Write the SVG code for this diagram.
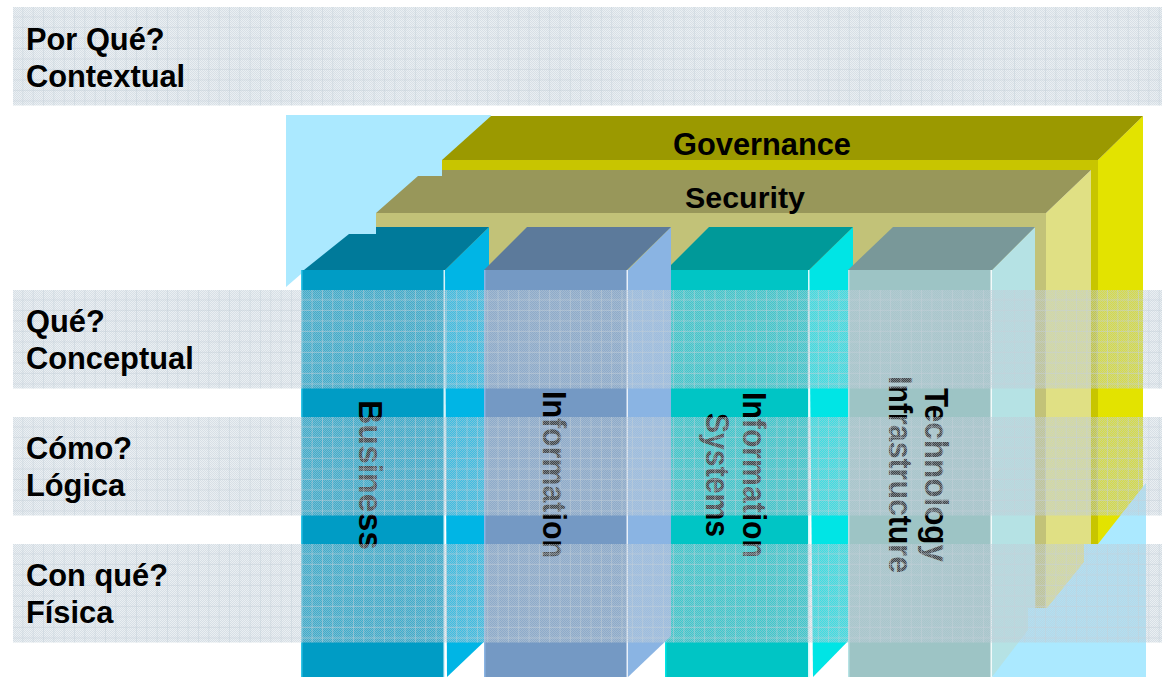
<svg xmlns="http://www.w3.org/2000/svg" width="1162" height="677" viewBox="0 0 1162 677">
<style>
text{font-family:"Liberation Sans",Arial,sans-serif;font-weight:700;fill:#000}
.lab{font-size:30.8px}
.col{font-size:33px}
.sky{fill:#abe9ff}
</style>
<defs>
<pattern id="dither" width="2" height="2" patternUnits="userSpaceOnUse">
<rect width="2" height="2" fill="rgb(190,205,215)" fill-opacity=".33"/>
<rect width="1" height="1" fill="rgb(190,205,215)" fill-opacity=".45"/>
<rect x="1" y="1" width="1" height="1" fill="rgb(190,205,215)" fill-opacity=".45"/>
</pattern>
<pattern id="grid" width="10.33" height="10.5" patternUnits="userSpaceOnUse">
<rect x="9.4" width="1" height="10.5" fill="rgb(198,210,218)" fill-opacity=".5"/>
<rect y="9.4" width="10.33" height="1" fill="rgb(198,210,218)" fill-opacity=".5"/>
</pattern>
<g id="bandshape">
<rect width="1149" height="98.5" fill="url(#dither)"/>
<rect width="1149" height="98.5" fill="url(#grid)"/>
</g>
</defs>

<rect width="1162" height="677" fill="#fff"/>

<polygon id="backdrop" class="sky" points="286,115 491,115 445,250 301,274 286,287"/>

<g id="governance">
<polygon points="1098,160 1143,116 1143,500 1098,560" fill="#e3e300"/>
<rect x="442" y="160" width="656" height="10" fill="#c8c500"/>
<rect x="1091" y="160" width="7" height="384" fill="#c8c500"/>
<polygon points="491,116 1143,116 1098,160 442,160" fill="#9b9900"/>
<text x="762" y="155" text-anchor="middle" style="font-size:30.8px">Governance</text>
</g>

<g id="security">
<polygon points="1046,213 1091,170 1091,570 1046,625" fill="#e0e084"/>
<rect x="376" y="213" width="670" height="57" fill="#c2c278"/>
<rect x="1035" y="213" width="11" height="395" fill="#c2c278"/>
<polygon points="418,176 442,176 442,170 1091,170 1046,213 376,213" fill="#98975a"/>
<text x="745" y="208" text-anchor="middle" style="font-size:30.4px">Security</text>
</g>

<g id="business">
<polygon points="445,270 489,227 489,637 447,677" fill="#00b5e5"/>
<polygon points="304,270 349,234 376,234 376,227 489,227 445,270" fill="#007a9a"/>
<rect x="301" y="270" width="143" height="407" fill="#009cc5"/>
<rect x="301" y="270" width="1.5" height="407" fill="#33c4e6"/>
<rect x="443.5" y="270" width="1.5" height="407" fill="#d4f2fa"/>
<text class="col" style="font-size:34px" transform="translate(359,400) rotate(90)" textLength="150" lengthAdjust="spacingAndGlyphs">Business</text>
</g>

<g id="information-systems">
<polygon points="809,270 853,227 853,636 813,677" fill="#00e5e5"/>
<polygon points="666,270 709,227 853,227 809,270" fill="#009999"/>
<rect x="665" y="270" width="143" height="407" fill="#00c5c5"/>
<rect x="665" y="270" width="1.5" height="407" fill="#00e5e5"/>
<rect x="808" y="270" width="1.5" height="407" fill="#d4fafa"/>
<text class="col" transform="translate(743,392) rotate(90)" textLength="166" lengthAdjust="spacingAndGlyphs">Information</text>
<text class="col" transform="translate(706,413) rotate(90)" textLength="124" lengthAdjust="spacingAndGlyphs">Systems</text>
</g>

<g id="information">
<polygon points="628,270 671,227 671,636 628,677" fill="#8ab4e3"/>
<polygon points="484,270 527,227 671,227 627,270" fill="#5c7a9b"/>
<rect x="484" y="270" width="143" height="407" fill="#7499c4"/>
<rect x="484" y="270" width="1.5" height="407" fill="#8ab4e3"/>
<rect x="626.5" y="270" width="1.5" height="407" fill="#e8f0fa"/>
<text class="col" transform="translate(543,391) rotate(90)" textLength="167" lengthAdjust="spacingAndGlyphs">Information</text>
</g>

<g id="technology-infrastructure">
<polygon points="992,270 1035,227 1035,640 992,677" fill="#b5e2e4"/>
<polygon points="848,270 893,227 1035,227 992,270" fill="#799899"/>
<rect x="848" y="270" width="143" height="407" fill="#9dc4c5"/>
<rect x="848" y="270" width="1.5" height="407" fill="#b5e2e4"/>
<rect x="990.5" y="270" width="1.5" height="407" fill="#f2fafa"/>
<text class="col" transform="translate(925,388) rotate(90)" textLength="174" lengthAdjust="spacingAndGlyphs">Technology</text>
<text class="col" transform="translate(889,376) rotate(90)" textLength="197" lengthAdjust="spacingAndGlyphs">Infrastructure</text>
</g>

<polygon id="foreground" class="sky" points="1146,483 1098,544 1084,544 1084,562 1047,608 1028,608 1028,630 992,677 1146,677"/>

<g id="band-contextual">
<use href="#bandshape" transform="translate(13,7)"/>
<text class="lab" x="26" y="50">Por Qué?</text>
<text class="lab" x="26" y="87">Contextual</text>
</g>
<g id="band-conceptual">
<use href="#bandshape" transform="translate(13,290)"/>
<text class="lab" x="26" y="332">Qué?</text>
<text class="lab" x="26" y="369">Conceptual</text>
</g>
<g id="band-logica">
<use href="#bandshape" transform="translate(13,417)"/>
<text class="lab" x="26" y="459">Cómo?</text>
<text class="lab" x="26" y="496">Lógica</text>
</g>
<g id="band-fisica">
<use href="#bandshape" transform="translate(13,544)"/>
<text class="lab" x="26" y="586">Con qué?</text>
<text class="lab" x="26" y="623">Física</text>
</g>
</svg>
